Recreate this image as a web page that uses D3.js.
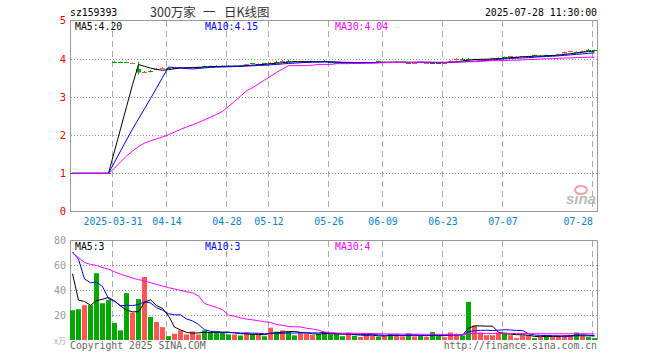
<!DOCTYPE html>
<html>
<head>
<meta charset="utf-8">
<script src="https://cdn.jsdelivr.net/npm/d3@7"></script>
<style>
  body { margin: 0; background: #fff; }
  text { font-family: "DejaVu Sans Mono", monospace; font-size: 9.8px; }
</style>
</head>
<body>
<script>
// trading days shown (2025)
const dates = [
  "03-20","03-21","03-24","03-25","03-26","03-27","03-28",
  "03-31","04-01","04-02","04-03","04-07","04-08","04-09","04-10","04-11",
  "04-14","04-15","04-16","04-17","04-18","04-21","04-22","04-23","04-24","04-25",
  "04-28","04-29","04-30","05-06","05-07","05-08","05-09",
  "05-12","05-13","05-14","05-15","05-16","05-19","05-20","05-21","05-22","05-23",
  "05-26","05-27","05-28","05-29","05-30","06-03","06-04","06-05","06-06",
  "06-09","06-10","06-11","06-12","06-13","06-16","06-17","06-18","06-19","06-20",
  "06-23","06-24","06-25","06-26","06-27","06-30","07-01","07-02","07-03","07-04",
  "07-07","07-08","07-09","07-10","07-11","07-14","07-15","07-16","07-17","07-18",
  "07-21","07-22","07-23","07-24","07-25","07-28"
];

const open = [
  1.002,1.001,0.999,1.002,1.001,1.001,1.001,
  3.91,3.91,3.91,3.88,3.74,3.64,3.68,3.72,3.75,
  3.76,3.75,3.76,3.76,3.77,3.78,3.81,3.81,3.82,3.81,
  3.82,3.81,3.82,3.82,3.88,3.86,3.88,
  3.87,3.92,3.92,3.95,3.93,3.91,3.91,3.92,3.93,3.93,
  3.91,3.89,3.89,3.88,3.89,3.88,3.90,3.90,3.93,
  3.90,3.91,3.91,3.90,3.90,3.89,3.91,3.89,3.90,3.90,
  3.89,3.91,3.96,4.00,4.00,3.98,3.97,3.98,4.00,4.02,
  4.05,4.04,4.04,4.05,4.06,4.10,4.06,4.09,4.08,4.10,
  4.14,4.18,4.18,4.17,4.24,4.23
];
const high = [
  1.004,1.002,1.002,1.003,1.002,1.002,1.002,
  3.93,3.92,3.92,3.90,3.92,3.68,3.70,3.76,3.78,
  3.77,3.77,3.78,3.78,3.79,3.80,3.82,3.82,3.83,3.82,
  3.83,3.83,3.83,3.86,3.89,3.88,3.89,
  3.92,3.95,3.97,3.98,3.94,3.93,3.93,3.94,3.94,3.96,
  3.92,3.90,3.90,3.90,3.90,3.91,3.92,3.92,3.94,
  3.92,3.92,3.93,3.92,3.91,3.91,3.92,3.91,3.91,3.91,
  3.91,3.96,4.01,4.02,4.02,4.01,3.99,4.00,4.03,4.04,
  4.06,4.07,4.06,4.07,4.08,4.11,4.10,4.11,4.10,4.13,
  4.19,4.21,4.19,4.22,4.26,4.24
];
const low = [
  0.998,0.999,0.998,0.999,0.998,0.999,0.999,
  3.88,3.89,3.89,3.87,3.59,3.62,3.64,3.70,3.73,
  3.74,3.74,3.75,3.75,3.76,3.77,3.79,3.79,3.80,3.79,
  3.80,3.80,3.80,3.81,3.85,3.85,3.85,
  3.86,3.90,3.91,3.92,3.90,3.90,3.90,3.91,3.90,3.91,
  3.88,3.87,3.87,3.87,3.87,3.87,3.89,3.89,3.91,
  3.89,3.89,3.90,3.89,3.88,3.88,3.89,3.88,3.87,3.88,
  3.88,3.90,3.95,3.97,3.96,3.97,3.96,3.97,3.99,4.01,
  4.03,4.03,4.03,4.04,4.05,4.08,4.05,4.07,4.07,4.09,
  4.13,4.17,4.15,4.16,4.22,4.21
];
const close = [
  1.000,1.000,1.001,1.000,1.000,1.000,1.000,
  3.90,3.90,3.90,3.89,3.65,3.66,3.67,3.74,3.76,
  3.75,3.76,3.77,3.77,3.78,3.79,3.80,3.80,3.81,3.80,
  3.81,3.82,3.81,3.85,3.86,3.87,3.86,
  3.90,3.91,3.94,3.93,3.91,3.92,3.92,3.93,3.91,3.92,
  3.89,3.88,3.88,3.89,3.88,3.90,3.91,3.91,3.92,
  3.91,3.90,3.92,3.91,3.89,3.90,3.90,3.90,3.88,3.89,
  3.90,3.95,3.98,3.99,3.98,3.99,3.98,3.99,4.02,4.03,
  4.04,4.06,4.05,4.06,4.07,4.09,4.08,4.08,4.09,4.12,
  4.18,4.19,4.16,4.19,4.23,4.22
];
// MA30 of price as drawn on the chart
const ma30Price = [
  1.00,1.00,1.00,1.00,1.00,1.00,1.00,
  1.13,1.30,1.45,1.58,1.70,1.79,1.85,1.90,1.95,
  2.01,2.08,2.15,2.21,2.27,2.33,2.40,2.47,2.54,2.62,
  2.75,2.88,3.02,3.16,3.24,3.34,3.44,
  3.54,3.64,3.73,3.82,3.82,3.82,3.82,3.83,3.85,3.85,
  3.85,3.87,3.87,3.87,3.88,3.88,3.88,3.88,3.89,
  3.90,3.90,3.90,3.90,3.90,3.90,3.91,3.91,3.91,3.91,
  3.91,3.91,3.91,3.92,3.92,3.92,3.93,3.94,3.95,3.95,
  3.95,3.96,3.96,3.97,3.98,3.98,3.99,4.00,4.00,4.01,
  4.02,4.02,4.03,4.03,4.04,4.04
];
// volume (万手)
const volume = [
  23.8,24.6,27.8,27.8,53.4,29.4,31.9,
  13.6,7.7,37.5,21.9,32.7,50.4,18.4,14.4,10.3,
  3.1,5.0,7.7,4.4,6.9,4.4,7.7,6.3,6.9,6.3,
  4.4,4.4,3.6,5.8,4.4,4.2,3.0,
  9.9,6.7,7.7,6.4,3.7,5.9,5.0,4.0,4.8,6.4,
  4.5,4.8,3.0,5.9,3.4,2.4,4.5,3.6,2.6,
  3.0,4.8,4.8,2.9,5.3,2.9,3.2,2.4,6.3,3.2,
  2.3,6.0,4.9,3.6,30.5,11.5,6.0,3.8,3.8,6.0,
  6.0,3.8,1.5,3.8,3.8,1.5,2.3,3.8,2.3,3.8,
  3.8,3.6,6.0,3.6,2.3,1.5
];
// sessions before the window, needed for the moving averages
const priorClose = [
  1.00,1.00,1.00,1.00,1.00,1.00,1.00,1.00,1.00,1.00
];
const priorVolume = [
  130,148,73,80,78,72,75,70,78,72,
  70,75,65,58,48,42,40,38,36,34,
  82,186,58,48,65,130,33,43,35
];
const tickDates = ["03-31","04-14","04-28","05-12","05-26","06-09","06-23","07-07","07-28"];
const priceTicks = [0, 1, 2, 3, 4, 5];
const volTicks = [20, 40, 60, 80];

const red = "#ff5555", green = "#00a800";

function movingAvg(prior, vals, n) {
  const all = prior.concat(vals);
  return vals.map(function (v, i) {
    const end = prior.length + i + 1;
    return d3.mean(all.slice(end - n, end));
  });
}

const svg = d3.select("body").append("svg")
  .attr("width", 660).attr("height", 360);

const x = d3.scalePoint().domain(dates).range([70, 592]);
const yP = d3.scaleLinear().domain([0, 5]).range([211.5, 20.5]);
const yV = d3.scaleLinear().domain([0, 80]).range([340, 240]);

// header
svg.append("text").attr("x", 70).attr("y", 16).text("sz159393");
const title = [["300万家", 150], ["一", 203], ["日K线图", 224]];
svg.selectAll(".title").data(title).enter().append("text")
  .attr("x", d => d[1]).attr("y", 16.5)
  .style("font-family", '"Noto Sans CJK SC", sans-serif').style("font-size", "12.5px")
  .attr("fill", "#333").text(d => d[0]);
svg.append("text").attr("x", 597).attr("y", 16).attr("text-anchor", "end")
  .text("2025-07-28 11:30:00");

// grids
function grid(y, ticks, top, bottom) {
  const g = svg.append("g");
  g.selectAll(".h").data(ticks).enter().append("line")
    .attr("x1", 71).attr("x2", 597)
    .attr("y1", d => Math.round(y(d)) + 0.5).attr("y2", d => Math.round(y(d)) + 0.5)
    .attr("stroke", "#999").attr("stroke-dasharray", "1,2");
  g.selectAll(".v").data(tickDates).enter().append("line")
    .attr("x1", d => x(d) + 0.5).attr("x2", d => x(d) + 0.5)
    .attr("y1", top).attr("y2", bottom)
    .attr("stroke", "#aaa").attr("stroke-dasharray", "6,4");
}
grid(yP, [1, 2, 3, 4], 21, 211);
grid(yV, [20, 40, 60], 241, 340);

// sina logo
const logo = svg.append("g");
logo.append("ellipse").attr("cx", 581).attr("cy", 190).attr("rx", 6).attr("ry", 4)
  .attr("fill", "none").attr("stroke", "#f6a0a0").attr("stroke-width", 2);
logo.append("text").attr("x", 566).attr("y", 204)
  .style("font-family", "Arial, sans-serif").style("font-size", "15px")
  .style("font-style", "italic").style("font-weight", "bold")
  .attr("fill", "#bbb").text("sina");

// frames
svg.append("rect").attr("x", 70.5).attr("y", 20.5).attr("width", 527).attr("height", 191)
  .attr("fill", "none").attr("stroke", "#999");
svg.append("path").attr("d", "M70.5,340V240.5H597.5V340")
  .attr("fill", "none").attr("stroke", "#999");

// axes
svg.append("g").attr("transform", "translate(69,0)")
  .call(d3.axisLeft(yP).tickValues(priceTicks).tickSize(0).tickPadding(3).tickFormat(d3.format("d")))
  .call(g => g.select(".domain").remove())
  .call(g => g.selectAll("text").attr("fill", "#e00").style("font-size", "10.5px")
    .style("font-family", '"DejaVu Sans Mono", monospace'));

svg.append("g").attr("transform", "translate(69,0)")
  .call(d3.axisLeft(yV).tickValues(volTicks).tickSize(0).tickPadding(3))
  .call(g => g.select(".domain").remove())
  .call(g => g.selectAll("text").attr("fill", "#999").style("font-size", "10px")
    .style("font-family", '"DejaVu Sans Mono", monospace'));
svg.append("text").attr("x", 66).attr("y", 344).attr("text-anchor", "end")
  .style("font-family", '"Noto Sans CJK SC", sans-serif').style("font-size", "8px")
  .attr("fill", "#aaa").text("x万");

svg.append("g").attr("transform", "translate(0.5,211.5)")
  .call(d3.axisBottom(x).tickValues(tickDates).tickSize(0).tickPadding(7)
    .tickFormat(d => d === "03-31" ? "2025-" + d : d))
  .call(g => g.select(".domain").remove())
  .call(g => g.selectAll("text").attr("fill", "#0a80d0")
    .style("font-family", '"DejaVu Sans Mono", monospace').style("font-size", "9.8px"))
  .call(g => g.selectAll(".tick").filter(d => d === "07-28").select("text")
    .attr("text-anchor", "end"));

// candles
const rows = dates.map((d, i) => ({ d: d, o: open[i], h: high[i], l: low[i], c: close[i], v: volume[i] }));
const col = r => r.c >= r.o ? red : green;

const candle = svg.append("g").selectAll("g").data(rows).enter().append("g");
candle.append("line")
  .attr("x1", r => x(r.d) + 2.5).attr("x2", r => x(r.d) + 2.5)
  .attr("y1", r => yP(r.h)).attr("y2", r => yP(r.l))
  .attr("stroke", col);
candle.append("rect")
  .attr("x", r => x(r.d)).attr("width", 5)
  .attr("y", r => Math.round(yP(Math.max(r.o, r.c))))
  .attr("height", r => Math.max(1, Math.abs(yP(r.o) - yP(r.c))))
  .attr("fill", col);

// volume bars
svg.append("g").selectAll("rect").data(rows).enter().append("rect")
  .attr("x", r => x(r.d)).attr("width", 5)
  .attr("y", r => yV(r.v)).attr("height", r => 340 - yV(r.v))
  .attr("fill", col);

// moving averages
const maDefs = [[5, "#000"], [10, "#00f"], [30, "#f0f"]];
const labelX = [75, 205, 335];
maDefs.forEach(function (m, j) {
  const mp = m[0] === 30 ? ma30Price : movingAvg(priorClose, close, m[0]);
  const mv = movingAvg(priorVolume, volume, m[0]);
  svg.append("path").datum(mp)
    .attr("fill", "none").attr("stroke", m[1])
    .attr("d", d3.line().x((v, i) => x(dates[i]) + 2.5).y(v => yP(v)));
  svg.append("path").datum(mv)
    .attr("fill", "none").attr("stroke", m[1])
    .attr("d", d3.line().x((v, i) => x(dates[i]) + 2.5).y(v => yV(v)));
  svg.append("text").attr("x", labelX[j]).attr("y", 29.5).attr("fill", m[1])
    .text("MA" + m[0] + ":" + mp[mp.length - 1].toFixed(2));
  svg.append("text").attr("x", labelX[j]).attr("y", 250).attr("fill", m[1])
    .text("MA" + m[0] + ":" + Math.floor(mv[mv.length - 1]));
});

// footer
svg.append("text").attr("x", 70).attr("y", 349).attr("fill", "#666")
  .text("Copyright 2025 SINA.COM");
svg.append("text").attr("x", 597).attr("y", 349).attr("text-anchor", "end").attr("fill", "#666")
  .text("http://finance.sina.com.cn");
</script>
</body>
</html>
